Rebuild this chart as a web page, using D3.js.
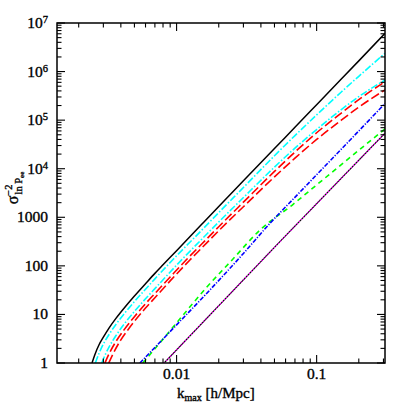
<!DOCTYPE html>
<html><head><meta charset="utf-8">
<script src="https://cdn.jsdelivr.net/npm/d3@7"></script>
<style>body{margin:0;background:#fff}svg{display:block}text{stroke:#000;stroke-width:0.35px}</style>
</head><body><svg id="c" width="407" height="407"></svg>
<script>
// ---- data ----
const kBlack = [0.00249,0.0026,0.0028,0.003,0.0033,0.0037,0.0042,0.005,0.006,0.007,0.008,0.01,0.015,0.02,0.03,0.05,0.07,0.1,0.15,0.2,0.3077];
const vBlack = [1,1.45,2.4,3.4,5.3,8.4,13.3,24,43,70,105,205,700,1670,5640,26000,71500,208000,700000,1660000,6100000];

const kCyan1 = [0.00263,0.0028,0.003,0.0033,0.0037,0.0042,0.005,0.006,0.007,0.0095,0.015,0.02,0.03,0.05,0.07,0.1,0.15,0.2,0.3077];
const vCyan1 = [1,1.6,2.45,3.9,6.3,10.1,18.4,33,54,138,530,1250,4100,18500,48000,128000,380000,800000,2380000];

const kCyan2 = [0.00292,0.0031,0.0033,0.0037,0.0042,0.005,0.006,0.007,0.01086,0.015,0.02,0.03,0.05,0.07,0.1,0.15,0.2,0.3077];
const vCyan2 = [1,1.5,2.15,3.7,6.2,11.5,21,34,133,345,800,2550,10800,26500,64000,165000,305000,670000];

const kRed1 = [0.00308,0.0033,0.0037,0.0042,0.005,0.006,0.007,0.009,0.01178,0.015,0.02,0.03,0.05,0.07,0.1,0.15,0.2,0.3077];
const vRed1 = [1,1.56,2.8,4.75,9,16.6,27,59,135,275,640,2050,8800,22000,55000,140000,265000,620000];

const kRed2 = [0.00328,0.0035,0.004,0.0045,0.005,0.006,0.007,0.009,0.01245,0.015,0.02,0.03,0.05,0.07,0.1,0.15,0.2,0.3077];
const vRed2 = [1,1.5,3,4.85,7.2,13.5,22,49,132,228,530,1650,6800,16500,40000,100000,185000,420000];

const kBlue = [0.00547,0.01,0.01638,0.03,0.0464,0.0681,0.1,0.2,0.3077];
const vBlue = [1,6.1,27,180,750,2380,7500,60000,220000];

const kGreen = [0.00574,0.008,0.01,0.01652,0.025,0.0394,0.0676,0.1,0.2,0.3077];
const vGreen = [1,3.1,6.7,37,134,547,1833,4640,24000,66000];

const kMag = [0.00815,0.0562,0.3077];
const vMag = [1,341,53900];

const xMajor = [0.01,0.1];
const xMajorLabels = ["0.01","0.1"];
const xMinor = [0.002,0.003,0.004,0.005,0.006,0.007,0.008,0.009,0.02,0.03,0.04,0.05,0.06,0.07,0.08,0.09,0.2,0.3];
const yMajor = [1,10,100,1000,1e4,1e5,1e6,1e7];
const yMajorBase = ["1","10","100","1000","10","10","10","10"];
const yMajorExp  = ["","","","","4","5","6","7"];

// ---- drawing ----
const svg = d3.select("#c");
const L=57,R=385,T=23,B=363;
const x = d3.scaleLog().domain([0.0014,0.3077]).range([L,R]);
const y = d3.scaleLog().domain([1,1e7]).range([B,T]);

const yMinor = [];
for (let e=0;e<7;e++) for (let m=2;m<=9;m++) yMinor.push(m*Math.pow(10,e));

svg.append("clipPath").attr("id","clip").append("rect")
  .attr("x",L).attr("y",T).attr("width",R-L).attr("height",B-T);

const plot = svg.append("g").attr("clip-path","url(#clip)");
const line = d3.line().x(d=>x(d[0])).y(d=>y(d[1])).curve(d3.curveMonotoneX);
function series(ks,vs){ return ks.map((k,i)=>[k,vs[i]]); }

function draw(ks,vs,color,w,dash){
  plot.append("path").datum(series(ks,vs)).attr("d",line)
    .attr("fill","none").attr("stroke",color).attr("stroke-width",w)
    .attr("stroke-dasharray",dash||null);
}
draw(kMag,vMag,"#000",1.1,null);
draw(kMag,vMag,"#ff00ff",1.4,"1.2,1.8");
draw(kGreen,vGreen,"#00ff00",1.6,"5,4");
draw(kBlue,vBlue,"#0000ff",1.6,"4.5,1.5,1.2,1.5");
draw(kRed2,vRed2,"#ff0000",1.6,"9,3.5");
draw(kRed1,vRed1,"#ff0000",1.6,"9,3.5");
draw(kCyan2,vCyan2,"#00ffff",1.6,"7,2,1.5,2");
draw(kCyan1,vCyan1,"#00ffff",1.6,"7,2,1.5,2");
draw(kBlack,vBlack,"#000",1.5,null);

// axes with inward ticks on all four sides
const ax = svg.append("g");
function tickX(vals,len){
  vals.forEach(v=>{
    ax.append("line").attr("x1",x(v)).attr("x2",x(v)).attr("y1",B).attr("y2",B-len).attr("stroke","#000").attr("stroke-width",1.1);
    ax.append("line").attr("x1",x(v)).attr("x2",x(v)).attr("y1",T).attr("y2",T+len).attr("stroke","#000").attr("stroke-width",1.1);
  });
}
function tickY(vals,len){
  vals.forEach(v=>{
    ax.append("line").attr("y1",y(v)).attr("y2",y(v)).attr("x1",L).attr("x2",L+len).attr("stroke","#000").attr("stroke-width",1.1);
    ax.append("line").attr("y1",y(v)).attr("y2",y(v)).attr("x1",R).attr("x2",R-len).attr("stroke","#000").attr("stroke-width",1.1);
  });
}
tickX(xMajor,8); tickX(xMinor,4.5);
tickY(yMajor,8); tickY(yMinor,4.5);
ax.append("rect").attr("x",L).attr("y",T).attr("width",R-L).attr("height",B-T)
  .attr("fill","none").attr("stroke","#000").attr("stroke-width",1.5);

const font = "'Liberation Serif', serif";
xMajor.forEach((v,i)=>{
  svg.append("text").attr("x",x(v)).attr("y",379).attr("text-anchor","middle")
    .attr("font-family",font).attr("font-size",15.5).text(xMajorLabels[i]);
});
yMajor.forEach((v,i)=>{
  const t = svg.append("text").attr("x",48).attr("y",y(v)+5).attr("text-anchor","end")
    .attr("font-family",font).attr("font-size",15.5);
  t.append("tspan").text(yMajorBase[i]);
  if (yMajorExp[i]) t.append("tspan").attr("dy",-5).attr("font-size",10.5).text(yMajorExp[i]);
});

// x title
const xt = svg.append("text").attr("x",177).attr("y",398).attr("font-family",font).attr("font-size",15);
xt.append("tspan").text("k");
xt.append("tspan").attr("dy",3).attr("font-size",10).text("max");
xt.append("tspan").attr("dy",-3).text(" [h/Mpc]");

// y title
const yt = svg.append("text").attr("transform","translate(18,188) rotate(-90)")
  .attr("text-anchor","middle").attr("font-family",font).attr("font-size",16);
yt.append("tspan").text("σ");
yt.append("tspan").attr("dy",-6).attr("font-size",10.5).text("−2");
yt.append("tspan").attr("dx",-10).attr("dy",10).attr("font-size",10.5).text("ln P");
yt.append("tspan").attr("dy",2).attr("font-size",7).text("ee");
</script></body></html>
